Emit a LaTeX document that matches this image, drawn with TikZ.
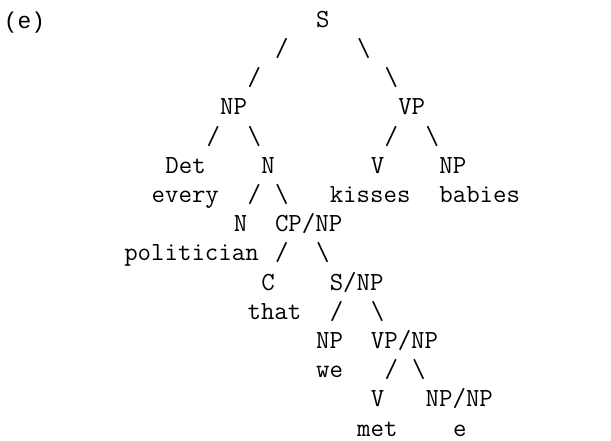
\documentclass[tikz,border=0pt]{standalone}
\usepackage{fontspec}
\newfontfamily\labfont{Liberation Mono}
\newcommand\colw{13.7}
\newcommand\tk[4]{\node[tok] (#1) at ({1+#2*\colw},{441-27.3-(#3-1)*29.2}) {#4};}
\newcommand\bs{\textbackslash}
\begin{document}
\begin{tikzpicture}[x=1pt,y=1pt,
  tok/.style={anchor=base west,inner sep=0pt,outer sep=0pt,
    font=\ttfamily\fontsize{26.1}{29}\selectfont,text=black},
  labtok/.style={anchor=base west,inner sep=0pt,outer sep=0pt,
    font=\labfont\fontsize{22.83}{29}\selectfont,text=black}]
\fill[white] (0,0) rectangle (611,441);
\useasboundingbox (0,0) rectangle (611,441);
% line 1
\node[labtok] (lbl) at (4,{441-28.3}) {(e)};
\tk{s}{23}{1}{S}
% line 2
\tk{sl2a}{20}{2}{/}
\tk{bs2a}{26}{2}{\bs}
% line 3
\tk{sl3a}{18}{3}{/}
\tk{bs3a}{28}{3}{\bs}
% line 4
\tk{np}{16}{4}{NP}
\tk{vp}{29}{4}{VP}
% line 5
\tk{sl5a}{15}{5}{/}
\tk{bs5a}{18}{5}{\bs}
\tk{sl5b}{28}{5}{/}
\tk{bs5b}{31}{5}{\bs}
% line 6
\tk{det}{12}{6}{Det}
\tk{n}{19}{6}{N}
\tk{v}{27}{6}{V}
\tk{npo}{32}{6}{NP}
% line 7
\tk{every}{11}{7}{every}
\tk{sl7a}{18}{7}{/}
\tk{bs7a}{20}{7}{\bs}
\tk{kisses}{24}{7}{kisses}
\tk{babies}{32}{7}{babies}
% line 8
\tk{nn}{17}{8}{N}
\tk{cpnp}{20}{8}{CP/NP}
% line 9
\tk{politician}{9}{9}{politician}
\tk{sl9a}{20}{9}{/}
\tk{bs9a}{23}{9}{\bs}
% line 10
\tk{c}{19}{10}{C}
\tk{snp}{24}{10}{S/NP}
% line 11
\tk{that}{18}{11}{that}
\tk{sl11a}{24}{11}{/}
\tk{bs11a}{27}{11}{\bs}
% line 12
\tk{npwe}{23}{12}{NP}
\tk{vpnp}{27}{12}{VP/NP}
% line 13
\tk{we}{23}{13}{we}
\tk{sl13a}{28}{13}{/}
\tk{bs13a}{30}{13}{\bs}
% line 14
\tk{vmet}{27}{14}{V}
\tk{npnp}{31}{14}{NP/NP}
% line 15
\tk{met}{26}{15}{met}
\tk{gap}{33}{15}{e}
\end{tikzpicture}
\end{document}
